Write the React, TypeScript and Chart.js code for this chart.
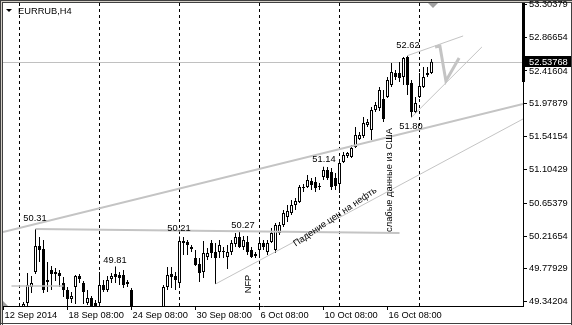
import React, { useEffect, useRef } from "react";
import { Chart, registerables } from "chart.js";

Chart.register(...registerables);

const FONT = '"Liberation Sans", Arial, sans-serif';
const FONT_PX = 9.3;

// ---- candle data (H4 bars, bar index 5..107) ----
const FIRST_BAR = 5;
const opens = [
  49.205, 49.325, 49.538, 49.738, 50.084, 50.044, 49.631, 49.764, 49.738, 49.724,
  49.591, 49.498, 49.378, 49.538, 49.684, 49.591, 49.325, 49.391, 49.325, 49.325,
  49.564, 49.498, 49.645, 49.711, 49.698, 49.698, 49.578, 49.498, 49.205, 49.152,
  49.072, 49.165, 49.125, 49.191, 49.218, 49.258, 49.538, 49.711, 49.684, 49.591,
  50.151, 50.137, 50.071, 49.924, 49.844, 49.738, 49.937, 50.124, 50.004, 50.004,
  50.017, 49.937, 50.004, 50.111, 50.204, 50.071, 50.137, 50.031, 49.977, 50.031,
  50.124, 50.004, 50.137, 50.031, 50.257, 50.364, 50.470, 50.524, 50.630, 50.670,
  50.870, 50.870, 50.950, 50.937, 50.870, 51.003, 51.096, 51.070, 50.990, 50.910,
  51.203, 51.283, 51.269, 51.403, 51.509, 51.549, 51.696, 51.629, 51.896, 51.922,
  52.042, 52.069, 52.229, 52.389, 52.389, 52.335, 52.602, 52.255, 51.869, 52.069,
  52.202, 52.362, 52.389,
];
const highs = [
  49.338, 49.724, 49.684, 50.31, 50.204, 50.164, 49.871, 49.818, 49.791, 49.764,
  49.671, 49.538, 49.471, 49.698, 49.711, 49.618, 49.498, 49.418, 49.365, 49.738,
  49.631, 49.684, 49.724, 49.81, 49.738, 49.764, 49.631, 49.524, 49.258, 49.231,
  49.205, 49.245, 49.231, 49.258, 49.27, 49.564, 49.804, 49.804, 49.738, 50.21,
  50.204, 50.164, 50.097, 50.031, 49.924, 50.151, 50.057, 50.164, 50.124, 50.164,
  50.071, 50.097, 50.164, 50.257, 50.27, 50.217, 50.217, 50.071, 50.004, 50.164,
  50.164, 50.164, 50.324, 50.39, 50.404, 50.564, 50.63, 50.697, 50.723, 50.897,
  50.91, 51.03, 50.99, 51.003, 50.923, 51.14, 51.136, 51.123, 51.056, 51.203,
  51.336, 51.336, 51.429, 51.669, 51.603, 51.802, 51.776, 51.936, 52.002, 52.202,
  52.162, 52.335, 52.522, 52.429, 52.535, 52.602, 52.62, 52.295, 52.069, 52.389,
  52.469, 52.469, 52.575,
];
const lows = [
  49.152, 49.285, 49.458, 49.711, 49.871, 49.458, 49.471, 49.498, 49.618, 49.538,
  49.405, 49.245, 49.325, 49.311, 49.591, 49.311, 49.298, 49.205, 49.165, 49.285,
  49.471, 49.471, 49.591, 49.591, 49.564, 49.524, 49.538, 49.205, 49.098, 49.032,
  49.018, 49.072, 49.085, 49.125, 49.152, 49.205, 49.498, 49.524, 49.498, 49.538,
  49.964, 49.964, 50.004, 49.818, 49.605, 49.658, 49.897, 49.924, 49.578, 49.924,
  49.924, 49.778, 49.964, 50.071, 50.057, 50.031, 49.964, 49.924, 49.924, 49.924,
  50.031, 49.964, 50.124, 49.991, 50.231, 50.337, 50.404, 50.497, 50.564, 50.657,
  50.803, 50.857, 50.83, 50.803, 50.83, 50.963, 50.963, 50.83, 50.83, 50.79,
  51.19, 51.256, 51.256, 51.389, 51.496, 51.523, 51.669, 51.496, 51.869, 51.882,
  51.736, 52.056, 52.202, 52.295, 52.269, 52.229, 52.096, 51.8, 51.856, 52.056,
  52.189, 52.335, 52.375,
];
const closes = [
  49.311, 49.564, 49.591, 50.084, 50.031, 49.498, 49.605, 49.711, 49.711, 49.684,
  49.498, 49.378, 49.418, 49.684, 49.645, 49.471, 49.391, 49.231, 49.205, 49.564,
  49.498, 49.631, 49.684, 49.671, 49.658, 49.564, 49.605, 49.231, 49.152, 49.098,
  49.165, 49.125, 49.205, 49.231, 49.245, 49.538, 49.698, 49.671, 49.631, 50.151,
  50.124, 50.097, 50.044, 49.831, 49.724, 49.991, 49.991, 49.991, 49.924, 50.097,
  50.004, 50.004, 50.124, 50.204, 50.071, 50.164, 50.004, 49.937, 49.951, 50.124,
  50.071, 50.124, 50.257, 50.364, 50.364, 50.524, 50.55, 50.63, 50.684, 50.87,
  50.857, 50.963, 50.897, 50.857, 50.883, 51.096, 50.99, 50.87, 50.883, 51.19,
  51.296, 51.323, 51.389, 51.563, 51.563, 51.722, 51.736, 51.896, 51.962, 52.162,
  51.776, 52.295, 52.402, 52.335, 52.322, 52.588, 52.229, 51.869, 51.989, 52.215,
  52.335, 52.389, 52.53768,
];

// ---- axes ----
const xTickBars = [0, 16, 32, 48, 64, 80, 96];
const xTickLabels = ["12 Sep 2014", "18 Sep 08:00", "24 Sep 08:00", "30 Sep 08:00", "6 Oct 08:00", "10 Oct 08:00", "16 Oct 08:00"];
const weekGridBars = [4, 24, 44, 64, 84, 104];
const yTicks = [53.30379, 52.86654, 52.41604, 51.97879, 51.54154, 51.10429, 50.65379, 50.21654, 49.77929, 49.34204];
const Y_MIN = 49.285;
const Y_MAX = 53.321;
const X_MIN = -0.125;
const X_MAX = 129.875;
const bidPrice = 52.53768;
const symbolTitle = "EURRUB,H4";

// ---- drawn objects: [bar, price] pairs ----
const risingTrend = [[-0.125, 50.27], [129.875, 51.976]];
const flatLevel = [[8, 50.31], [99, 50.257]];
const lowLevel = [[2, 49.551], [15, 49.551]];
const oilSupport = [[53, 49.578], [129.875, 51.776]];
const channelLow = [[102, 51.8], [119.6, 52.735]];
const channelHigh = [[101, 52.62], [114.9, 52.882]];
const forecastZigzag = [[107.9, 52.735], [109.1, 52.748], [110.6, 52.282], [113.9, 52.588]];

// ---- price labels ----
const priceLabelTexts = ["50.31", "49.81", "50.21", "50.27", "51.14", "52.62", "51.80"];
const priceLabelBars = [7.875, 27.875, 43.875, 59.875, 80.125, 101.125, 101.875];
const priceLabelPrices = [50.457, 49.897, 50.324, 50.364, 51.243, 52.762, 51.683];

// ---- rotated notes ----
const noteTexts = ["NFP", "слабые данные из США", "Падение цен на нефть"];
const noteBars = [61.125, 96.375, 82.875];
const notePrices = [49.578, 50.963, 50.47];
const noteAngles = [-90, -90, -34];

const LINE_GRAY = "#c4c4c4";

export default function App() {
  const ref = useRef<HTMLCanvasElement>(null);

  useEffect(() => {
    const canvas = ref.current!;
    const bars = opens.map((_, k) => FIRST_BAR + k);
    const isUp = opens.map((o, k) => closes[k] >= o);
    const font = `${FONT_PX}px ${FONT}`;

    const lineDs = (pts: number[][], width: number) => ({
      type: "line" as const,
      data: pts.map(([x, y]) => ({ x, y })),
      borderColor: LINE_GRAY,
      borderWidth: width,
      pointRadius: 0,
      fill: false,
      tension: 0,
      order: 0,
    });

    const overlay = {
      id: "mt4overlay",
      beforeDraw(chart: any) {
        const { ctx, width, height } = chart;
        ctx.save();
        ctx.fillStyle = "#ffffff";
        ctx.fillRect(0, 0, width, height);
        // window frame
        ctx.fillStyle = "#404040";
        ctx.fillRect(0, 0, width, 1);
        ctx.fillRect(0, 2, width, 1);
        ctx.fillRect(0, 0, 1, height);
        ctx.fillRect(2, 0, 1, height);
        ctx.fillRect(0, height - 2, width, 1);
        ctx.fillRect(width - 1, 0, 1, height);
        ctx.fillStyle = "#d4d0c8";
        ctx.fillRect(1, 1, width - 1, 1);
        ctx.fillRect(1, 1, 1, height - 3);
        ctx.restore();
      },
      beforeDatasetsDraw(chart: any) {
        const { ctx, chartArea } = chart;
        const xs = chart.scales.x;
        const ys = chart.scales.y;
        ctx.save();
        ctx.strokeStyle = "#000";
        ctx.lineWidth = 1;
        ctx.setLineDash([3, 3]);
        weekGridBars.forEach((b) => {
          const px = Math.floor(xs.getPixelForValue(b)) + 0.5;
          ctx.beginPath();
          ctx.moveTo(px, chartArea.top);
          ctx.lineTo(px, chartArea.bottom);
          ctx.stroke();
        });
        ctx.setLineDash([]);
        const by = Math.round(ys.getPixelForValue(bidPrice)) + 0.5;
        ctx.strokeStyle = "#c0c0c0";
        ctx.beginPath();
        ctx.moveTo(chartArea.left, by);
        ctx.lineTo(chartArea.right, by);
        ctx.stroke();
        ctx.restore();
      },
      afterDatasetsDraw(chart: any) {
        const { ctx } = chart;
        const xs = chart.scales.x;
        const ys = chart.scales.y;
        ctx.save();
        ctx.font = font;
        ctx.fillStyle = "#000";
        ctx.textAlign = "center";
        ctx.textBaseline = "middle";
        priceLabelTexts.forEach((t, k) => {
          ctx.fillText(t, xs.getPixelForValue(priceLabelBars[k]), ys.getPixelForValue(priceLabelPrices[k]));
        });
        noteTexts.forEach((t, k) => {
          ctx.save();
          ctx.translate(xs.getPixelForValue(noteBars[k]), ys.getPixelForValue(notePrices[k]));
          ctx.rotate((noteAngles[k] * Math.PI) / 180);
          ctx.fillText(t, 0, 0);
          ctx.restore();
        });
        ctx.restore();
      },
      afterDraw(chart: any) {
        const { ctx, chartArea, width } = chart;
        const ys = chart.scales.y;
        ctx.save();
        // thick right edge near top
        ctx.fillStyle = "#000";
        ctx.fillRect(chartArea.right - 1, chartArea.top, 3, 79);
        // bid label
        const by = ys.getPixelForValue(bidPrice);
        ctx.fillStyle = "#000";
        ctx.fillRect(chartArea.right, Math.round(by) - 6, width - chartArea.right - 1, 11);
        ctx.fillStyle = "#fff";
        ctx.font = font;
        ctx.textAlign = "left";
        ctx.textBaseline = "middle";
        ctx.fillText(bidPrice.toFixed(5), chartArea.right + 6, Math.round(by));
        // title
        ctx.fillStyle = "#000";
        ctx.fillText(symbolTitle, 18, 11);
        ctx.beginPath();
        ctx.moveTo(6, 9);
        ctx.lineTo(12, 9);
        ctx.lineTo(9, 12);
        ctx.closePath();
        ctx.fill();
        // shift marker
        ctx.fillStyle = "#a0a0a0";
        ctx.beginPath();
        ctx.moveTo(428, chartArea.top);
        ctx.lineTo(438, chartArea.top);
        ctx.lineTo(433, chartArea.top + 5);
        ctx.closePath();
        ctx.fill();
        // bottom-left marker
        ctx.beginPath();
        ctx.moveTo(chartArea.left, chartArea.bottom - 5);
        ctx.lineTo(chartArea.left, chartArea.bottom);
        ctx.lineTo(chartArea.left + 5, chartArea.bottom);
        ctx.closePath();
        ctx.fill();
        ctx.restore();
      },
    };

    const chart = new Chart(canvas, {
      type: "bar",
      data: {
        datasets: [
          lineDs(risingTrend, 2),
          lineDs(flatLevel, 2),
          lineDs(lowLevel, 1.5),
          lineDs(oilSupport, 1),
          lineDs(channelLow, 1),
          lineDs(channelHigh, 1),
          lineDs(forecastZigzag, 3),
          {
            type: "bar",
            data: bars.map((x, k) => ({ x, y: [opens[k], closes[k]] })),
            backgroundColor: isUp.map((u) => (u ? "#ffffff" : "#000000")),
            borderColor: "#000",
            borderWidth: 1,
            borderSkipped: false,
            barThickness: 3,
            minBarLength: 1,
            grouped: false,
            inflateAmount: 0,
            order: 1,
          },
          {
            type: "bar",
            data: bars.map((x, k) => ({ x, y: [lows[k], highs[k]] })),
            backgroundColor: "#000",
            borderWidth: 0,
            barThickness: 1,
            grouped: false,
            inflateAmount: 0,
            order: 2,
          },
        ] as any,
      },
      options: {
        responsive: false,
        animation: false,
        devicePixelRatio: 1,
        layout: { padding: { left: 3, top: 3, right: 0, bottom: 0 } },
        plugins: { legend: { display: false }, tooltip: { enabled: false }, title: { display: false } },
        scales: {
          x: {
            type: "linear",
            position: "bottom",
            offset: false,
            min: X_MIN,
            max: X_MAX,
            afterBuildTicks: (s: any) => {
              s.ticks = xTickBars.map((v) => ({ value: v }));
            },
            afterFit: (s: any) => {
              s.height = 19;
              s.paddingLeft = 0;
              s.paddingRight = 0;
            },
            grid: { display: true, offset: false, drawOnChartArea: false, drawTicks: true, tickLength: 4, color: "#000" },
            border: { display: true, color: "#000" },
            ticks: {
              autoSkip: false,
              maxRotation: 0,
              minRotation: 0,
              align: "start",
              labelOffset: 1,
              padding: 0,
              color: "#000",
              font: { family: FONT, size: FONT_PX },
              callback: (v: any) => {
                const k = xTickBars.indexOf(Number(v));
                return k >= 0 ? xTickLabels[k] : "";
              },
            },
          },
          y: {
            type: "linear",
            position: "right",
            min: Y_MIN,
            max: Y_MAX,
            afterBuildTicks: (s: any) => {
              s.ticks = yTicks.map((v) => ({ value: v }));
            },
            afterFit: (s: any) => {
              s.width = 49;
              s.paddingTop = 0;
              s.paddingBottom = 0;
            },
            grid: { display: true, drawOnChartArea: false, drawTicks: true, tickLength: 4, color: "#000" },
            border: { display: true, color: "#000" },
            ticks: {
              padding: 2,
              color: "#000",
              font: { family: FONT, size: FONT_PX },
              callback: (v: any) => Number(v).toFixed(5),
            },
          },
        },
      } as any,
      plugins: [overlay],
    });
    return () => chart.destroy();
  }, []);

  return (
    <canvas
      ref={ref}
      width={572}
      height={325}
      style={{ position: "fixed", left: 0, top: 0, width: 572, height: 325, display: "block" }}
    />
  );
}
